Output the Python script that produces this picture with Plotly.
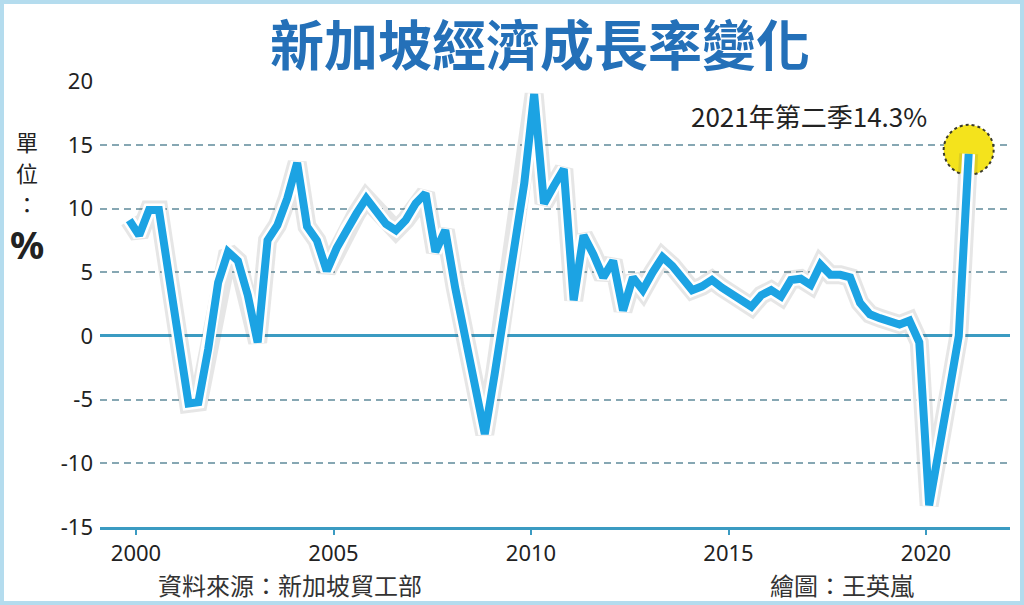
import plotly.graph_objects as go

# Singapore real GDP growth, year on year, quarterly 2000Q1 - 2021Q2 (%)
# values read off the source graphic
start_year = 2000
growth = [
    9.1, 7.9, 9.9, 9.9,       # 2000
    4.8, 0.2, -5.3, -5.2,     # 2001
    -1.0, 4.2, 6.6, 5.9,      # 2002
    3.2, -0.5, 7.5, 8.7,      # 2003
    10.8, 13.6, 8.6, 7.5,     # 2004
    5.1, 6.9, 8.4, 9.6,       # 2005
    10.8, 9.8, 8.8, 8.3,      # 2006
    9.1, 10.4, 11.2, 6.6,     # 2007
    8.3, 3.8, -0.3, -4.2,     # 2008
    -7.7, -3.0, 2.0, 7.0,     # 2009
    12.0, 19.0, 10.4, 11.8,   # 2010
    13.1, 2.8, 7.9, 6.4,      # 2011
    4.6, 5.9, 2.0, 4.6,       # 2012
    3.6, 5.0, 6.2, 5.5,       # 2013
    4.6, 3.6, 3.9, 4.4,       # 2014
    3.8, 3.3, 2.9, 2.3,       # 2015
    3.2, 3.6, 3.1, 4.4,       # 2016
    4.5, 4.0, 5.6, 4.8,       # 2017
    4.8, 4.6, 2.6, 1.7,       # 2018
    1.4, 1.2, 0.9, 1.2,       # 2019
    -0.5, -13.3, -8.5, -4.5,  # 2020
    0.0, 14.3,                # 2021
]
x_ticks = [2000, 2005, 2010, 2015, 2020]
y_ticks = [-15, -10, -5, 0, 5, 10, 15, 20]

title = "新加坡經濟成長率變化"
note = "2021年第二季14.3%"
unit_chars = ["單", "位", "："]
source = "資料來源：新加坡貿工部"
credit = "繪圖：王英嵐"

# the source graphic draws each quarter slightly left of its start
QUARTER_SHIFT = -0.17
t = [start_year + i / 4 + QUARTER_SHIFT for i in range(len(growth))]

W, H = 1024, 605
L, R, T, B = 100, 14, 81, 78
PW, PH = W - L - R, H - T - B
PX_PER_YEAR = 39.5
x_lo = 2000 - (136 - L) / PX_PER_YEAR
x_hi = x_lo + PW / PX_PER_YEAR

CJK = "Noto Sans CJK TC"
NUM = "Noto Sans"
LINE_BLUE = "#1ca3e3"
AXIS_BLUE = "#3b9bc2"


def px(xp, yp):
    """pixel position on the page -> paper coordinates"""
    return (xp - L) / PW, (H - B - yp) / PH


fig = go.Figure()

# soft shadow, white outline, then the blue line itself
for width, color in [(19, "rgba(90,90,90,0.15)"), (13, "white"), (8, LINE_BLUE)]:
    fig.add_trace(go.Scatter(
        x=t, y=growth, mode="lines",
        line=dict(color=color, width=width),
        hoverinfo="skip", showlegend=False,
    ))

# yellow highlight on the latest quarter
fig.add_shape(
    type="circle", layer="between",
    xref="x", yref="y", xsizemode="pixel", ysizemode="pixel",
    xanchor=t[-1], yanchor=growth[-1],
    x0=-25, x1=25, y0=-21, y1=29,
    fillcolor="#f4e31c", line=dict(color="#3a3a2a", width=2, dash="dot"),
)

fig.add_annotation(
    x=t[-1], y=growth[-1], xref="x", yref="y",
    text=note, showarrow=False, xanchor="right", yanchor="middle",
    xshift=-40, yshift=38,
    font=dict(family=CJK, size=26, color="#222222"),
)

# title as a free text block
xx, yy = px(540, 42)
fig.add_annotation(x=xx, y=yy, xref="paper", yref="paper",
                   text="<b>" + title + "</b>", showarrow=False,
                   xanchor="center", yanchor="middle",
                   font=dict(family=CJK, size=54, color="#2470b8"))

# unit label on the left, one character per line
for k, ch in enumerate(unit_chars):
    xx, yy = px(27, 141 + 31 * k)
    fig.add_annotation(x=xx, y=yy, xref="paper", yref="paper", text=ch,
                       showarrow=False, xanchor="center", yanchor="middle",
                       font=dict(family=CJK, size=22, color="#222222"))
xx, yy = px(27, 244)
fig.add_annotation(x=xx, y=yy, xref="paper", yref="paper", text="<b>%</b>",
                   showarrow=False, xanchor="center", yanchor="middle",
                   font=dict(family=NUM, size=38, color="#222222"))

# footer
for txt, (xp, yp) in [(source, (290, 584)), (credit, (842, 584))]:
    xx, yy = px(xp, yp)
    fig.add_annotation(x=xx, y=yy, xref="paper", yref="paper", text=txt,
                       showarrow=False, xanchor="center", yanchor="middle",
                       font=dict(family=CJK, size=24, color="#333333"))

# light blue frame round the whole graphic
fx0, fy0 = px(2, H - 2)
fx1, fy1 = px(W - 2, 2)
fig.add_shape(type="rect", xref="paper", yref="paper", layer="above",
              x0=fx0, y0=fy0, x1=fx1, y1=fy1,
              line=dict(color="#b4dcee", width=4))

fig.update_layout(
    width=W, height=H,
    margin=dict(l=L, r=R, t=T, b=B),
    paper_bgcolor="white", plot_bgcolor="white",
    showlegend=False,
)
fig.update_xaxes(
    range=[x_lo, x_hi], tickvals=x_ticks, ticktext=[str(v) for v in x_ticks],
    showgrid=False, zeroline=False,
    showline=True, linecolor=AXIS_BLUE, linewidth=2.5,
    ticks="outside", ticklen=5, tickwidth=1.5, tickcolor=AXIS_BLUE,
    tickfont=dict(family=NUM, size=22, color="#222222"),
)
fig.update_yaxes(
    range=[-15, 20.02], tickvals=y_ticks, ticktext=[str(v) for v in y_ticks],
    showgrid=True, gridcolor="#86a7b3", gridwidth=1.6, griddash="7px,5px",
    zeroline=True, zerolinecolor=AXIS_BLUE, zerolinewidth=2.5,
    showline=False, ticks="", ticklabelstandoff=6,
    tickfont=dict(family=NUM, size=22, color="#222222"),
)

fig.write_html("out.html", config={"displayModeBar": False},
               post_script="document.body.style.margin='0';")
